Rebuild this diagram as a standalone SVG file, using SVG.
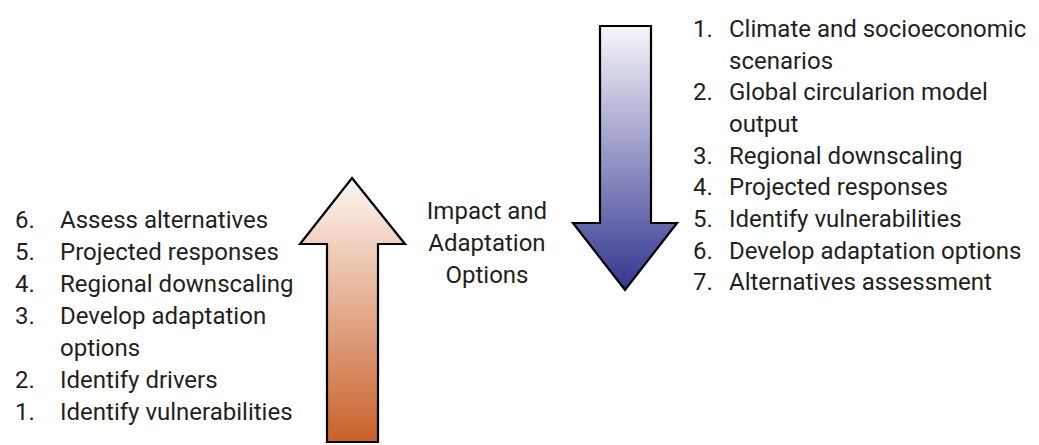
<svg xmlns="http://www.w3.org/2000/svg" width="1039" height="445" viewBox="0 0 1039 445">
<style>
text{font-family:"Roboto","Liberation Sans",sans-serif;font-size:24px;fill:#231f20}
.arrow{stroke:#000;stroke-width:2.2;stroke-linejoin:miter}
</style>
<defs>
<linearGradient id="gUp" x1="0" y1="0" x2="0" y2="1">
<stop offset="0" stop-color="#fdf6f1"/>
<stop offset="1" stop-color="#c8612a"/>
</linearGradient>
<linearGradient id="gDown" x1="0" y1="0" x2="0" y2="1">
<stop offset="0" stop-color="#f6f6fb"/>
<stop offset="1" stop-color="#34358f"/>
</linearGradient>
</defs>
<g id="arrow-up">
<path class="arrow" fill="url(#gUp)" d="M352,178 L405,244 L378,244 L378,442 L327,442 L327,244 L300,244 Z"/>
</g>
<g id="arrow-down">
<path class="arrow" fill="url(#gDown)" d="M600,26 L651,26 L651,223 L677,223 L625,290 L573,223 L600,223 Z"/>
</g>
<g id="left-list">
<text x="15" y="228">6.</text><text x="60" y="228">Assess alternatives</text>
<text x="15" y="260">5.</text><text x="60" y="260">Projected responses</text>
<text x="15" y="292">4.</text><text x="60" y="292">Regional downscaling</text>
<text x="15" y="324">3.</text><text x="60" y="324">Develop adaptation</text>
<text x="60" y="356">options</text>
<text x="15" y="388">2.</text><text x="60" y="388">Identify drivers</text>
<text x="15" y="420">1.</text><text x="60" y="420">Identify vulnerabilities</text>
</g>
<g id="center-label">
<text x="487" y="219" text-anchor="middle">Impact and</text>
<text x="487" y="251" text-anchor="middle">Adaptation</text>
<text x="487" y="283" text-anchor="middle">Options</text>
</g>
<g id="right-list">
<text x="693" y="37">1.</text><text x="729" y="37">Climate and socioeconomic</text>
<text x="729" y="69">scenarios</text>
<text x="693" y="100">2.</text><text x="729" y="100">Global circularion model</text>
<text x="729" y="132">output</text>
<text x="693" y="164">3.</text><text x="729" y="164">Regional downscaling</text>
<text x="693" y="195">4.</text><text x="729" y="195">Projected responses</text>
<text x="693" y="227">5.</text><text x="729" y="227">Identify vulnerabilities</text>
<text x="693" y="259">6.</text><text x="729" y="259">Develop adaptation options</text>
<text x="693" y="290">7.</text><text x="729" y="290">Alternatives assessment</text>
</g>
</svg>
